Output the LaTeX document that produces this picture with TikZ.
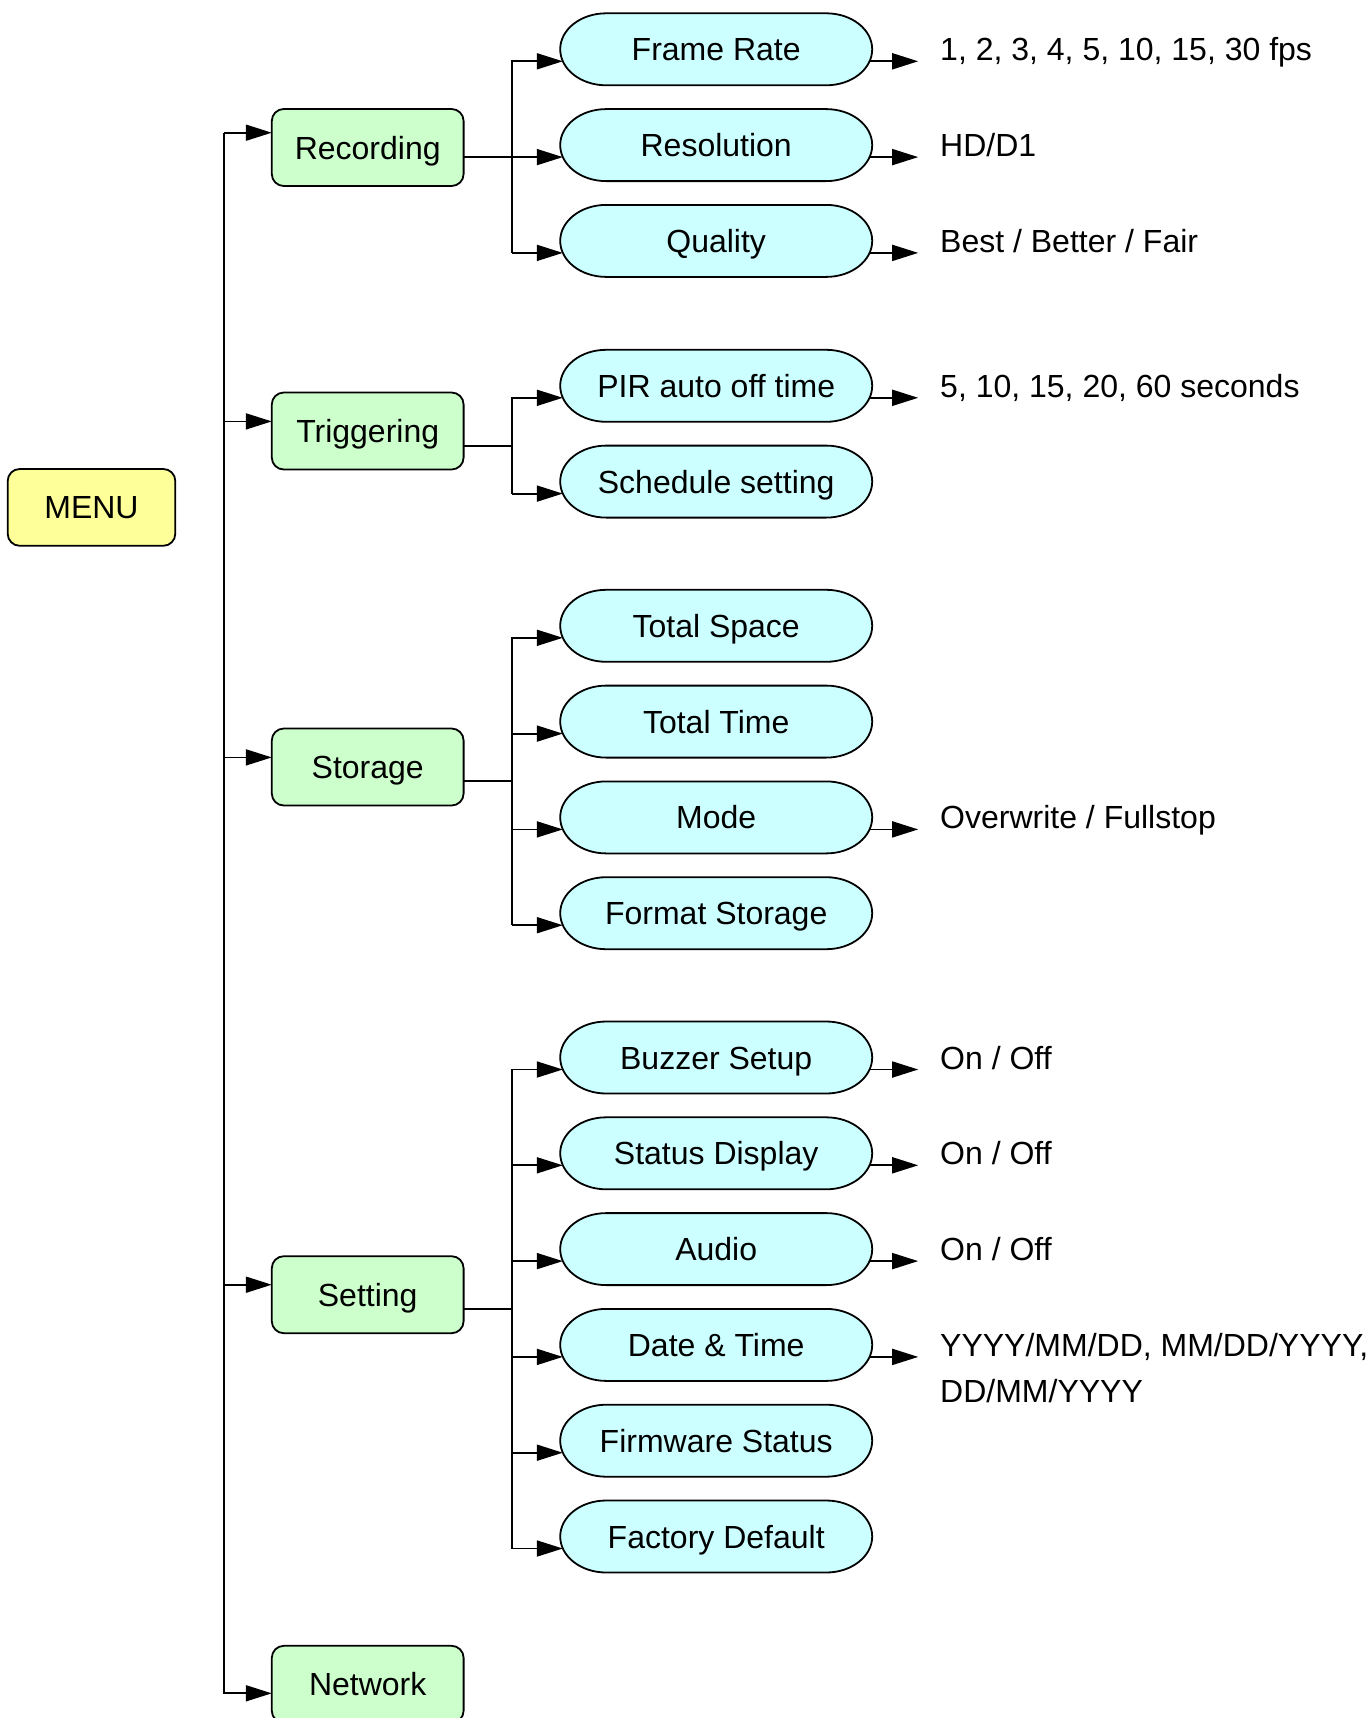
\documentclass[tikz,border=0pt]{standalone}
\usepackage{fontspec}
\setsansfont{Liberation Sans}
\usetikzlibrary{positioning,arrows.meta,backgrounds}
\definecolor{yellow100}{HTML}{FFFF99}
\definecolor{green100} {HTML}{CCFFCC}
\definecolor{cyan100}  {HTML}{CCFFFF}
\tikzset{
  menubox/.style={draw=black, line width=0.9pt, fill=yellow100,
                  rounded corners=6pt, minimum width=83.8pt,
                  minimum height=38.4pt, outer sep=0pt,
                  text height=11.5pt, text depth=0pt,
                  font=\sffamily\fontsize{16}{19}\selectfont},
  box/.style    ={draw=black, line width=0.9pt, fill=green100,
                  rounded corners=6pt, minimum width=95.9pt,
                  minimum height=38.5pt, outer sep=0pt,
                  text height=11.5pt, text depth=0pt,
                  font=\sffamily\fontsize{16}{19}\selectfont},
  pill/.style   ={minimum width=156pt, minimum height=36pt, inner sep=0pt,
                  outer sep=0pt, text height=11.5pt, text depth=0pt,
                  font=\sffamily\fontsize{16}{19}\selectfont},
  pilledge/.style={draw=black, line width=0.9pt, fill=cyan100},
  val/.style    ={inner sep=0pt, outer sep=0pt, text height=11.5pt,
                  text depth=0pt, font=\sffamily\fontsize{16}{23}\selectfont},
  ar/.style     ={-{Triangle[length=13pt,width=8pt]}, line width=0.9pt},
  ln/.style     ={line width=0.9pt}
}

\begin{document}
\begin{tikzpicture}[x=0.5pt, y=-0.5pt]
\useasboundingbox (0,0) rectangle (1371,1718);

\node[menubox] (menu) at (91.5,507.4) {MENU};

\node[box] (rec)  at (367.7,147.5)  {Recording};
\node[box] (trig) at (367.7,431)    {Triggering};
\node[box] (stor) at (367.7,767)    {Storage};
\node[box] (set)  at (367.7,1294.7) {Setting};
\node[box] (net)  at (367.7,1684.3) {Network};

\node[pill] (fr)   at (716.2,49.3)   {Frame Rate};
\node[pill] (res)  at (716.2,145.1)  {Resolution};
\node[pill] (qual) at (716.2,240.9)  {Quality};
\node[pill] (pir)  at (716.2,385.8)  {PIR auto off time};
\node[pill] (sch)  at (716.2,481.6)  {Schedule setting};
\node[pill] (tsp)  at (716.2,625.8)  {Total Space};
\node[pill] (tti)  at (716.2,721.6)  {Total Time};
\node[pill] (mode) at (716.2,817.4)  {Mode};
\node[pill] (fmt)  at (716.2,913.2)  {Format Storage};
\node[pill] (buz)  at (716.2,1057.5) {Buzzer Setup};
\node[pill] (sta)  at (716.2,1153.3) {Status Display};
\node[pill] (aud)  at (716.2,1249.1) {Audio};
\node[pill] (dt)   at (716.2,1344.9) {Date \& Time};
\node[pill] (fw)   at (716.2,1440.7) {Firmware Status};
\node[pill] (fac)  at (716.2,1536.5) {Factory Default};

\begin{scope}[on background layer]
\foreach \p in {fr,res,qual,pir,sch,tsp,tti,mode,fmt,buz,sta,aud,dt,fw,fac}
  \draw[pilledge] ([xshift=23pt]\p.north west) -- ([xshift=-23pt]\p.north east)
    arc[start angle=90, end angle=-90, x radius=23pt, y radius=18pt]
    -- ([xshift=23pt]\p.south west)
    arc[start angle=270, end angle=90, x radius=23pt, y radius=18pt] -- cycle;
\end{scope}

\node[val, right=34pt of fr]   (frv)   {1, 2, 3, 4, 5, 10, 15, 30 fps};
\node[val, right=34pt of res]  (resv)  {HD/D1};
\node[val, right=34pt of qual] (qualv) {Best / Better / Fair};
\node[val, right=34pt of pir]  (pirv)  {5, 10, 15, 20, 60 seconds};
\node[val, right=34pt of mode] (modev) {Overwrite / Fullstop};
\node[val, right=34pt of buz]  (buzv)  {On / Off};
\node[val, right=34pt of sta]  (stav)  {On / Off};
\node[val, right=34pt of aud]  (audv)  {On / Off};
\node[val, right=34pt of dt, yshift=-23pt, align=left] (dtv)
  {YYYY/MM/DD, MM/DD/YYYY,\\DD/MM/YYYY};

\draw[ar] ([xshift=-24pt,yshift=7.4pt]rec.west) |- ([yshift=-4.5pt]net.west);
\draw[ar] ([xshift=-24pt,yshift=7.4pt]rec.west) -- ([yshift=7.4pt]rec.west);
\draw[ar] ([xshift=-24pt,yshift=4.8pt]trig.west) -- ([yshift=4.8pt]trig.west);
\draw[ar] ([xshift=-24pt,yshift=4.8pt]stor.west) -- ([yshift=4.8pt]stor.west);
\draw[ar] ([xshift=-24pt,yshift=5pt]set.west) -- ([yshift=5pt]set.west);

\draw[ln] ([yshift=-4.6pt]rec.east) -- ++(24pt,0);
\draw[ar] ([xshift=-24pt,yshift=-6pt]qual.west) |- ([xshift=1.3pt,yshift=-6pt]fr.west);
\draw[ar] ([xshift=-24pt,yshift=-6pt]res.west) -- ([xshift=1.3pt,yshift=-6pt]res.west);
\draw[ar] ([xshift=-24pt,yshift=-6pt]qual.west) -- ([xshift=1.3pt,yshift=-6pt]qual.west);

\draw[ln] ([yshift=-7.3pt]trig.east) -- ++(24pt,0);
\draw[ar] ([xshift=-24pt,yshift=-6pt]sch.west) |- ([xshift=1.3pt,yshift=-6pt]pir.west);
\draw[ar] ([xshift=-24pt,yshift=-6pt]sch.west) -- ([xshift=1.3pt,yshift=-6pt]sch.west);

\draw[ln] ([yshift=-7pt]stor.east) -- ++(24pt,0);
\draw[ar] ([xshift=-24pt,yshift=-6pt]fmt.west) |- ([xshift=1.3pt,yshift=-6pt]tsp.west);
\draw[ar] ([xshift=-24pt,yshift=-6pt]tti.west) -- ([xshift=1.3pt,yshift=-6pt]tti.west);
\draw[ar] ([xshift=-24pt,yshift=-6pt]mode.west) -- ([xshift=1.3pt,yshift=-6pt]mode.west);
\draw[ar] ([xshift=-24pt,yshift=-6pt]fmt.west) -- ([xshift=1.3pt,yshift=-6pt]fmt.west);

\draw[ln] ([yshift=-7.3pt]set.east) -- ++(24pt,0);
\draw[ar] ([xshift=-24pt,yshift=-6pt]fac.west) |- ([xshift=1.3pt,yshift=-6pt]buz.west);
\draw[ar] ([xshift=-24pt,yshift=-6pt]sta.west) -- ([xshift=1.3pt,yshift=-6pt]sta.west);
\draw[ar] ([xshift=-24pt,yshift=-6pt]aud.west) -- ([xshift=1.3pt,yshift=-6pt]aud.west);
\draw[ar] ([xshift=-24pt,yshift=-6pt]dt.west) -- ([xshift=1.3pt,yshift=-6pt]dt.west);
\draw[ar] ([xshift=-24pt,yshift=-6pt]fw.west) -- ([xshift=1.3pt,yshift=-6pt]fw.west);
\draw[ar] ([xshift=-24pt,yshift=-6pt]fac.west) -- ([xshift=1.3pt,yshift=-6pt]fac.west);

\draw[ar] ([xshift=-1.3pt,yshift=-6pt]fr.east) -- ++(24.3pt,0);
\draw[ar] ([xshift=-1.3pt,yshift=-6pt]res.east) -- ++(24.3pt,0);
\draw[ar] ([xshift=-1.3pt,yshift=-6pt]qual.east) -- ++(24.3pt,0);
\draw[ar] ([xshift=-1.3pt,yshift=-6pt]pir.east) -- ++(24.3pt,0);
\draw[ar] ([xshift=-1.3pt,yshift=-6pt]mode.east) -- ++(24.3pt,0);
\draw[ar] ([xshift=-1.3pt,yshift=-6pt]buz.east) -- ++(24.3pt,0);
\draw[ar] ([xshift=-1.3pt,yshift=-6pt]sta.east) -- ++(24.3pt,0);
\draw[ar] ([xshift=-1.3pt,yshift=-6pt]aud.east) -- ++(24.3pt,0);
\draw[ar] ([xshift=-1.3pt,yshift=-6pt]dt.east) -- ++(24.3pt,0);
\end{tikzpicture}
\end{document}
